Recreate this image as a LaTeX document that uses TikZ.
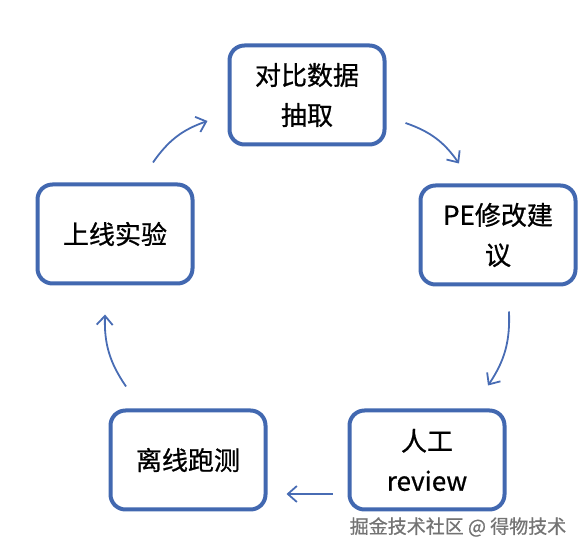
\documentclass[tikz,border=0pt]{standalone}
\usepackage{fontspec}
\setmainfont{Noto Sans CJK SC}
\newfontfamily\boxfont[FakeBold=0.8]{Noto Sans CJK SC}
\usetikzlibrary{arrows.meta}
\definecolor{boxblue}{RGB}{66,104,176}
\definecolor{arrowblue}{RGB}{72,108,180}
\begin{document}
\begin{tikzpicture}[x=1pt,y=1pt]
  \tikzset{ stage/.style={draw=boxblue, line width=4pt, rounded corners=15pt, fill=white,
      minimum width=155pt, minimum height=99pt, align=center,
      font=\boxfont\fontsize{26}{40}\selectfont},
    flow/.style={draw=arrowblue, line width=1.8pt, -{Straight Barb[length=9pt,width=16pt]}} };
  \useasboundingbox (0,0) rectangle (586,554);
  \node[stage] (A) at (307,459) {对比数据\\抽取};
  \node[stage] (B) at (498,319) {PE修改建\\议};
  \node[stage] (C) at (427,94) {人工\\review};
  \node[stage] (D) at (188,94) {离线跑测};
  \node[stage] (E) at (115,320) {上线实验};
  \draw[flow] ([xshift=19pt,yshift=-28pt]A.east) to[bend left=18] ([xshift=-39pt,yshift=20pt]B.north);
  \draw[flow] ([xshift=11pt,yshift=-25pt]B.south) to[bend left=18] ([xshift=61pt,yshift=23pt]C.north);
  \draw[flow] ([xshift=-15pt,yshift=-34pt]C.west) -- ([xshift=19pt,yshift=-34pt]D.east);
  \draw[flow] ([xshift=-62pt,yshift=22pt]D.north) to[bend left=18] ([xshift=-10pt,yshift=-29pt]E.south);
  \draw[flow] ([xshift=38pt,yshift=20pt]E.north) to[bend left=18] ([xshift=-20pt,yshift=-26pt]A.west);
  % watermark
  \node[text=black!55, font=\boxfont\fontsize{19}{22}\selectfont] (W) at (458,27) {掘金技术社区 @ 得物技术};
\end{tikzpicture}
\end{document}
